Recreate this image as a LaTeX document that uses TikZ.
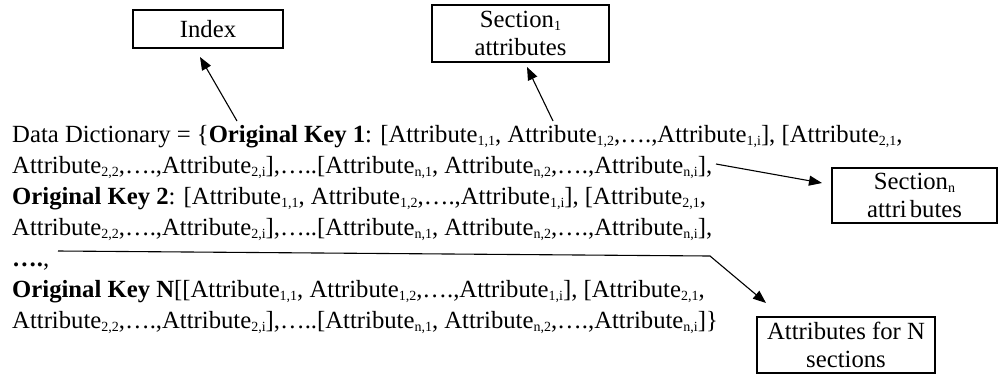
\documentclass[tikz,border=0pt]{standalone}
\usepackage{fontspec}
\setmainfont{Liberation Serif}
\usetikzlibrary{arrows.meta}
\newcommand{\subx}[1]{\raisebox{-0.3ex}{\fontsize{14}{14}\selectfont #1}}
\newcommand{\At}[1]{Attribute\subx{#1}}
\begin{document}
\begin{tikzpicture}[x=1pt,y=-1pt,
  lbl/.style={draw,line width=1.1pt,inner sep=0pt,align=center,font=\fontsize{24.7}{28}\selectfont},
  conn/.style={line width=1.1pt,-{Triangle[length=13pt,width=10pt]}}]
\useasboundingbox (0,0) rectangle (1000,373);
% labelled boxes
\node[lbl,minimum width=150pt,minimum height=38pt] (idx) at (208,29) {Index};
\node[lbl,minimum width=177pt,minimum height=57pt] (sec1) at (520.5,33.5) {Section\subx{1}\\attributes};
\node[lbl,minimum width=165pt,minimum height=55pt] (secn) at (914.5,195.5) {Section\subx{n}\\attri\kern3pt butes};
\node[lbl,minimum width=178pt,minimum height=56pt] (secN) at (846,345) {Attributes for N\\sections};
% the dictionary text
\node[anchor=north west,inner sep=0pt,align=left,font=\fontsize{24.7}{31}\selectfont] (dict) at (12,125) {%
Data Dictionary = \{\textbf{Original Key 1}: [\At{1,1}, \At{1,2},….,\At{1,i}], [\At{2,1},\\
\At{2,2},….,\At{2,i}],…..[\At{n,1}, \At{n,2},….,\At{n,i}],\\
\textbf{Original Key 2}: [\At{1,1}, \At{1,2},….,\At{1,i}], [\At{2,1},\\
\At{2,2},….,\At{2,i}],…..[\At{n,1}, \At{n,2},….,\At{n,i}],\\
\textbf{….},\\
\textbf{Original Key N}[[\At{1,1}, \At{1,2},….,\At{1,i}], [\At{2,1},\\
\At{2,2},….,\At{2,i}],…..[\At{n,1}, \At{n,2},….,\At{n,i}]\}};
% connector ends
\coordinate (tIdx) at (237,121);
\coordinate (hIdx) at (200,57);
\coordinate (tSec1) at (553,121);
\coordinate (hSec1) at (527,67);
\coordinate (tSecn) at (716,164);
\coordinate (hSecn) at (822,183);
\coordinate (tN) at (58,251);
\coordinate (kN) at (710,256);
\coordinate (hN) at (766,303);
\draw[conn] (tIdx) -- (hIdx);
\draw[conn] (tSec1) -- (hSec1);
\draw[conn] (tSecn) -- (hSecn);
\draw[conn] (tN) -- (kN) -- (hN);
\end{tikzpicture}
\end{document}
